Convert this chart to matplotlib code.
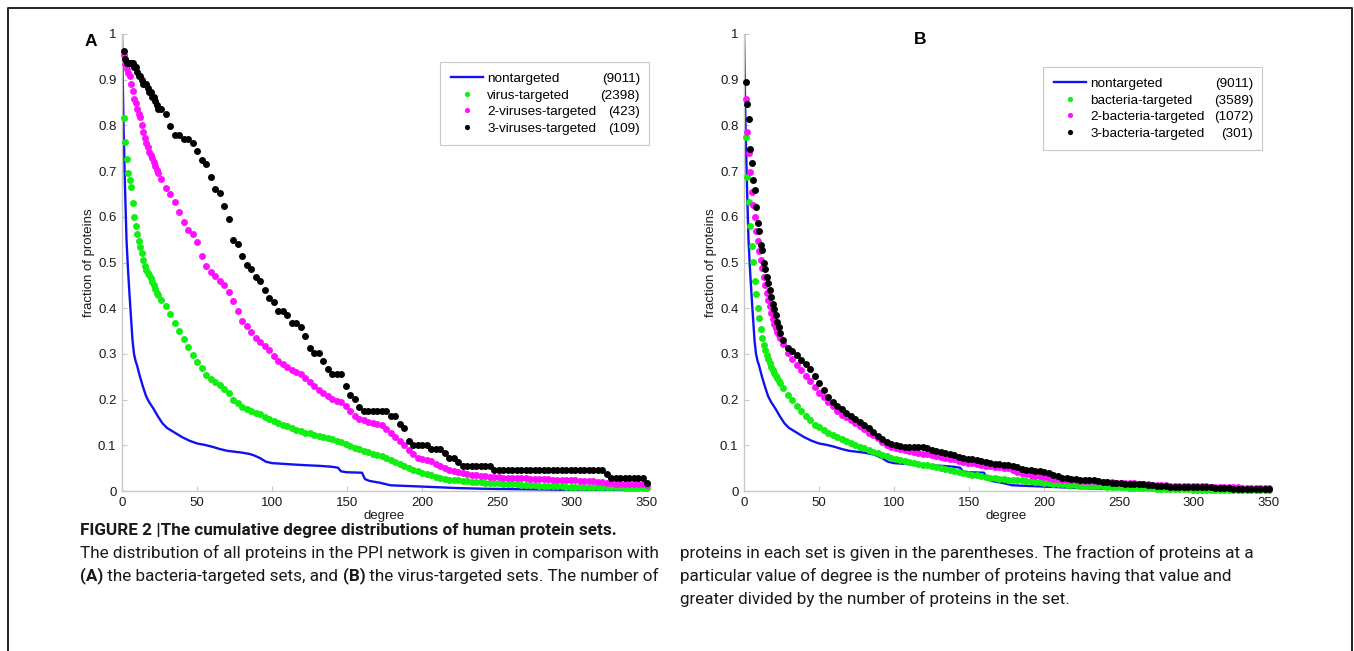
import matplotlib
matplotlib.use("Agg")
import matplotlib.pyplot as plt
from matplotlib.lines import Line2D
from matplotlib.transforms import IdentityTransform

W, H = 1354, 651

# degrees at which the dotted series are read (every degree up to 24, then every 3)
deg = list(range(1, 25)) + list(range(26, 351, 3))

# nontargeted proteins, same set in both panels
deg_all = [0, 1, 2, 3, 4, 5, 6, 7, 8, 9,
           10, 12, 14, 16, 18, 21, 24, 27, 30, 35,
           40, 45, 50, 55, 60, 65, 70, 75, 80, 85,
           88, 92, 96, 100, 105, 114, 125, 132, 140, 144,
           146, 150, 160, 162, 165, 172, 179, 190, 205, 223,
           240, 261, 294, 320, 350]
nontargeted = [1.0, 0.80, 0.665, 0.55, 0.485, 0.43, 0.38, 0.33, 0.30, 0.285,
               0.275, 0.25, 0.228, 0.208, 0.195, 0.18, 0.163, 0.148, 0.138, 0.128,
               0.118, 0.11, 0.104, 0.101, 0.097, 0.092, 0.088, 0.086, 0.084, 0.081,
               0.078, 0.072, 0.064, 0.061, 0.06, 0.058, 0.056, 0.055, 0.053, 0.051,
               0.043, 0.041, 0.04, 0.026, 0.022, 0.018, 0.0125, 0.011, 0.009, 0.0065,
               0.005, 0.004, 0.0025, 0.0015, 0.001]

# panel A
virus_1 = [0.817, 0.764, 0.726, 0.695, 0.68, 0.665, 0.63, 0.60, 0.58, 0.562, 0.547, 0.533,
           0.52, 0.505, 0.492, 0.484, 0.478, 0.473, 0.465, 0.458, 0.451, 0.442, 0.434, 0.428,
           0.418, 0.405, 0.387, 0.367, 0.35, 0.332, 0.316, 0.298, 0.283, 0.269,
           0.254, 0.245, 0.239, 0.232, 0.224, 0.214, 0.20, 0.192, 0.184, 0.179,
           0.175, 0.171, 0.168, 0.163, 0.157, 0.153, 0.149, 0.145, 0.142, 0.138,
           0.134, 0.131, 0.128, 0.126, 0.123, 0.121, 0.118, 0.116, 0.113, 0.11,
           0.107, 0.103, 0.099, 0.095, 0.092, 0.0875, 0.085, 0.082, 0.079, 0.076,
           0.072, 0.068, 0.063, 0.059, 0.055, 0.051, 0.047, 0.044, 0.04, 0.037,
           0.034, 0.031, 0.029, 0.026, 0.025, 0.024, 0.023, 0.022, 0.021, 0.02,
           0.0195, 0.019, 0.018, 0.0175, 0.017, 0.017, 0.016, 0.0155, 0.015, 0.0145,
           0.014, 0.0135, 0.013, 0.0125, 0.012, 0.0115, 0.011, 0.0108, 0.0105, 0.01,
           0.0098, 0.0096, 0.0094, 0.0092, 0.009, 0.0089, 0.0088, 0.0087, 0.0085, 0.0083,
           0.0081, 0.008, 0.0078, 0.0076, 0.0074, 0.0073, 0.0072, 0.0071, 0.007]
virus_2 = [0.955, 0.935, 0.923, 0.915, 0.908, 0.89, 0.875, 0.858, 0.848, 0.835, 0.826, 0.819,
           0.80, 0.785, 0.772, 0.762, 0.752, 0.742, 0.735, 0.728, 0.72, 0.712, 0.703, 0.695,
           0.682, 0.663, 0.649, 0.633, 0.61, 0.589, 0.572, 0.563, 0.545, 0.515,
           0.493, 0.48, 0.47, 0.46, 0.45, 0.435, 0.415, 0.393, 0.372, 0.36,
           0.347, 0.335, 0.326, 0.318, 0.308, 0.296, 0.285, 0.278, 0.272, 0.265,
           0.26, 0.255, 0.247, 0.238, 0.23, 0.222, 0.215, 0.208, 0.202, 0.198,
           0.194, 0.187, 0.175, 0.165, 0.158, 0.156, 0.152, 0.149, 0.147, 0.144,
           0.136, 0.128, 0.118, 0.109, 0.10, 0.09, 0.082, 0.073, 0.069, 0.067,
           0.065, 0.06, 0.055, 0.051, 0.047, 0.044, 0.041, 0.039, 0.037, 0.035,
           0.034, 0.033, 0.032, 0.031, 0.0305, 0.03, 0.0295, 0.029, 0.029, 0.0285,
           0.028, 0.0275, 0.027, 0.0265, 0.026, 0.0258, 0.0255, 0.025, 0.0245, 0.024,
           0.0237, 0.0234, 0.023, 0.0227, 0.0224, 0.022, 0.0215, 0.02, 0.019, 0.017,
           0.0165, 0.016, 0.0158, 0.0155, 0.015, 0.0148, 0.0146, 0.0145, 0.0142]
virus_3 = [0.963, 0.945, 0.936, 0.936, 0.936, 0.936, 0.936, 0.927, 0.927, 0.917, 0.908, 0.908,
           0.899, 0.89, 0.89, 0.89, 0.881, 0.872, 0.872, 0.862, 0.862, 0.853, 0.844, 0.835,
           0.835, 0.826, 0.798, 0.78, 0.78, 0.771, 0.771, 0.761, 0.743, 0.725,
           0.716, 0.688, 0.661, 0.651, 0.624, 0.596, 0.55, 0.541, 0.514, 0.495,
           0.486, 0.468, 0.459, 0.44, 0.422, 0.413, 0.394, 0.394, 0.385, 0.367,
           0.367, 0.358, 0.339, 0.312, 0.303, 0.303, 0.284, 0.266, 0.257, 0.257,
           0.257, 0.229, 0.211, 0.202, 0.183, 0.174, 0.174, 0.174, 0.174, 0.174,
           0.174, 0.165, 0.165, 0.147, 0.138, 0.11, 0.101, 0.101, 0.101, 0.101,
           0.092, 0.092, 0.092, 0.083, 0.073, 0.073, 0.064, 0.055, 0.055, 0.055,
           0.055, 0.055, 0.055, 0.055, 0.046, 0.046, 0.046, 0.046, 0.046, 0.046,
           0.046, 0.046, 0.046, 0.046, 0.046, 0.046, 0.046, 0.046, 0.046, 0.046,
           0.046, 0.046, 0.046, 0.046, 0.046, 0.046, 0.046, 0.046, 0.046, 0.037,
           0.028, 0.028, 0.028, 0.028, 0.028, 0.028, 0.028, 0.028, 0.018]

# panel B
bact_1 = [0.774, 0.688, 0.632, 0.58, 0.537, 0.502, 0.46, 0.43, 0.40, 0.378, 0.355, 0.335,
          0.32, 0.309, 0.298, 0.288, 0.28, 0.272, 0.265, 0.258, 0.252, 0.247, 0.241, 0.236,
          0.226, 0.211, 0.199, 0.187, 0.176, 0.165, 0.155, 0.145, 0.139, 0.133,
          0.128, 0.123, 0.118, 0.114, 0.109, 0.105, 0.101, 0.097, 0.094, 0.09,
          0.086, 0.083, 0.079, 0.076, 0.073, 0.07, 0.067, 0.065, 0.063, 0.061,
          0.059, 0.057, 0.056, 0.054, 0.052, 0.05, 0.048, 0.046, 0.044, 0.042,
          0.04, 0.038, 0.036, 0.034, 0.032, 0.03, 0.028, 0.0275, 0.027, 0.026,
          0.025, 0.024, 0.0235, 0.023, 0.0226, 0.021, 0.02, 0.019, 0.018, 0.017,
          0.016, 0.0155, 0.015, 0.014, 0.013, 0.0125, 0.012, 0.0115, 0.011, 0.011,
          0.0105, 0.01, 0.0095, 0.009, 0.0087, 0.0083, 0.008, 0.0076, 0.0072, 0.0068,
          0.0064, 0.006, 0.0057, 0.0054, 0.005, 0.0047, 0.0044, 0.0041, 0.0038, 0.0035,
          0.0033, 0.0031, 0.003, 0.0029, 0.0028, 0.0026, 0.0025, 0.0024, 0.0023, 0.0022,
          0.0021, 0.002, 0.0019, 0.0018, 0.0017, 0.0016, 0.0016, 0.0015, 0.0015]
bact_2 = [0.858, 0.786, 0.74, 0.697, 0.654, 0.625, 0.60, 0.57, 0.546, 0.526, 0.505, 0.487,
          0.468, 0.45, 0.433, 0.418, 0.405, 0.39, 0.377, 0.366, 0.356, 0.348, 0.341, 0.334,
          0.322, 0.301, 0.288, 0.276, 0.264, 0.252, 0.24, 0.227, 0.215, 0.205,
          0.195, 0.186, 0.176, 0.167, 0.161, 0.155, 0.149, 0.142, 0.135, 0.128,
          0.122, 0.115, 0.108, 0.101, 0.096, 0.094, 0.092, 0.09, 0.088, 0.086,
          0.084, 0.082, 0.08, 0.078, 0.076, 0.075, 0.073, 0.071, 0.069, 0.066,
          0.063, 0.062, 0.0605, 0.059, 0.057, 0.055, 0.054, 0.053, 0.052, 0.051,
          0.05, 0.046, 0.042, 0.039, 0.037, 0.035, 0.033, 0.032, 0.031, 0.029,
          0.027, 0.026, 0.025, 0.024, 0.0235, 0.023, 0.0225, 0.022, 0.022, 0.022,
          0.021, 0.02, 0.0195, 0.019, 0.0185, 0.018, 0.018, 0.017, 0.0165, 0.016,
          0.0155, 0.015, 0.014, 0.0135, 0.013, 0.0125, 0.012, 0.0115, 0.011, 0.011,
          0.0105, 0.0105, 0.01, 0.01, 0.01, 0.0098, 0.0097, 0.0096, 0.0095, 0.009,
          0.0085, 0.008, 0.0075, 0.007, 0.0068, 0.0065, 0.0063, 0.0062, 0.006]
bact_3 = [0.894, 0.846, 0.814, 0.748, 0.717, 0.68, 0.659, 0.622, 0.586, 0.57, 0.538, 0.527,
          0.50, 0.485, 0.468, 0.455, 0.44, 0.425, 0.41, 0.398, 0.385, 0.37, 0.358, 0.345,
          0.33, 0.314, 0.306, 0.298, 0.287, 0.278, 0.268, 0.252, 0.236, 0.221,
          0.205, 0.195, 0.187, 0.179, 0.171, 0.164, 0.157, 0.15, 0.145, 0.137,
          0.129, 0.12, 0.114, 0.108, 0.103, 0.1, 0.098, 0.097, 0.097, 0.097,
          0.097, 0.097, 0.094, 0.09, 0.088, 0.086, 0.084, 0.082, 0.078, 0.075,
          0.072, 0.07, 0.069, 0.068, 0.065, 0.063, 0.062, 0.06, 0.058, 0.057,
          0.056, 0.055, 0.052, 0.049, 0.046, 0.045, 0.044, 0.043, 0.042, 0.04,
          0.036, 0.032, 0.029, 0.028, 0.027, 0.026, 0.025, 0.024, 0.024, 0.024,
          0.022, 0.02, 0.019, 0.018, 0.017, 0.0165, 0.016, 0.0155, 0.0153, 0.015,
          0.015, 0.014, 0.013, 0.012, 0.011, 0.01, 0.0095, 0.009, 0.009, 0.009,
          0.009, 0.0085, 0.008, 0.008, 0.008, 0.0078, 0.0076, 0.0075, 0.0073, 0.006,
          0.0045, 0.004, 0.004, 0.004, 0.004, 0.004, 0.004, 0.004, 0.004]

names_a = ["nontargeted", "virus-targeted", "2-viruses-targeted", "3-viruses-targeted"]
counts_a = ["(9011)", "(2398)", "(423)", "(109)"]
names_b = ["nontargeted", "bacteria-targeted", "2-bacteria-targeted", "3-bacteria-targeted"]
counts_b = ["(9011)", "(3589)", "(1072)", "(301)"]

xticks = [0, 50, 100, 150, 200, 250, 300, 350]
yticks = [0, 0.1, 0.2, 0.3, 0.4, 0.5, 0.6, 0.7, 0.8, 0.9, 1]
ytick_labels = ["0", "0.1", "0.2", "0.3", "0.4", "0.5", "0.6", "0.7", "0.8", "0.9", "1"]

BLUE = "#1212f0"
DOTS = ["#11ee11", "#ff11ff", "#000000"]
GRID = "#c8c8c8"

plt.rcParams["font.family"] = ["Liberation Sans", "DejaVu Sans"]

fig = plt.figure(figsize=(W / 100, H / 100), dpi=100)
ax_a = fig.add_axes([122 / W, 1 - 491 / H, 525 / W, 457 / H])
ax_b = fig.add_axes([744 / W, 1 - 491 / H, 525 / W, 457 / H])


def panel(ax, series, names, leg_x0, leg_x1, leg_top):
    ax.plot(deg_all, nontargeted, color=BLUE, lw=1.7, label=names[0], zorder=2)
    for vals, c, n in zip(series, DOTS, names[1:]):
        ax.plot(deg, vals, ls="none", marker="o", ms=5.0, mec="none", mfc=c,
                label=n, clip_on=False, zorder=3)
    ax.set_xlim(0, 350)
    ax.set_ylim(0, 1)
    ax.set_xticks(xticks)
    ax.set_yticks(yticks)
    ax.set_yticklabels(ytick_labels)
    for s in ["top", "right"]:
        ax.spines[s].set_visible(False)
    for s in ["left", "bottom"]:
        ax.spines[s].set_color(GRID)
        ax.spines[s].set_linewidth(1.0)
    ax.tick_params(direction="in", length=3.5, color=GRID, labelsize=9.5,
                   labelcolor="#1a1a1a", pad=4)
    ax.set_xlabel("degree", fontsize=9.5, color="#1a1a1a")
    ax.set_ylabel("fraction of proteins", fontsize=9.5, color="#1a1a1a")
    ax.xaxis.set_label_coords(0.5, -0.042)
    ax.yaxis.set_label_coords(-0.052, 0.5)
    leg = ax.legend(loc="upper left", bbox_to_anchor=(leg_x0, 0, leg_x1 - leg_x0, leg_top),
                    mode="expand", fontsize=9.7, fancybox=False, edgecolor=GRID,
                    framealpha=1, borderpad=0.8, labelspacing=0.3, handlelength=2.4,
                    handletextpad=0.3, borderaxespad=0, numpoints=1, markerscale=0.75)
    leg.get_frame().set_linewidth(0.8)
    return leg


leg_a = panel(ax_a, [virus_1, virus_2, virus_3], names_a, 0.606, 1.004, 0.939)
leg_b = panel(ax_b, [bact_1, bact_2, bact_3], names_b, 0.57, 0.987, 0.928)

fig.text(91 / W, 1 - 41 / H, "A", fontsize=12.5, fontweight="bold", ha="center", va="center")
fig.text(920 / W, 1 - 40 / H, "B", fontsize=12.5, fontweight="bold", ha="center", va="center")

fig.canvas.draw()
renderer = fig.canvas.get_renderer()

# counts in the right-hand column of each legend
for leg, counts in [(leg_a, counts_a), (leg_b, counts_b)]:
    frame = leg.get_frame().get_window_extent(renderer)
    for t, c in zip(leg.get_texts(), counts):
        bb = t.get_window_extent(renderer)
        fig.text(frame.x1 - 9, (bb.y0 + bb.y1) / 2, c, fontsize=9.7, ha="right",
                 va="center", transform=IdentityTransform())

# outer frame of the figure panel
frame_line = Line2D([8 / W, 8 / W, 1352 / W, 1352 / W], [0, 1 - 8 / H, 1 - 8 / H, 0],
                    transform=fig.transFigure, color="#222222", lw=1.4)
fig.add_artist(frame_line)

cap_font = ["Liberation Sans Narrow", "Roboto", "DejaVu Sans"]
cap_size = 12.3


def runs(x_px, y_px, parts):
    x = x_px
    for s, w in parts:
        t = fig.text(x, H - y_px, s, fontsize=cap_size, fontweight=w, family=cap_font,
                     ha="left", va="center", color="#1a1a1a", transform=IdentityTransform())
        x = t.get_window_extent(renderer).x1


runs(80, 530, [("FIGURE 2 |The cumulative degree distributions of human protein sets.", "bold")])
runs(80, 553, [("The distribution of all proteins in the PPI network is given in comparison with", "normal")])
runs(80, 576, [("(A)", "bold"), (" the bacteria-targeted sets, and ", "normal"), ("(B)", "bold"),
               (" the virus-targeted sets. The number of", "normal")])
runs(680, 553, [("proteins in each set is given in the parentheses. The fraction of proteins at a", "normal")])
runs(680, 576, [("particular value of degree is the number of proteins having that value and", "normal")])
runs(680, 599, [("greater divided by the number of proteins in the set.", "normal")])

fig.savefig("out.png", dpi=100)
